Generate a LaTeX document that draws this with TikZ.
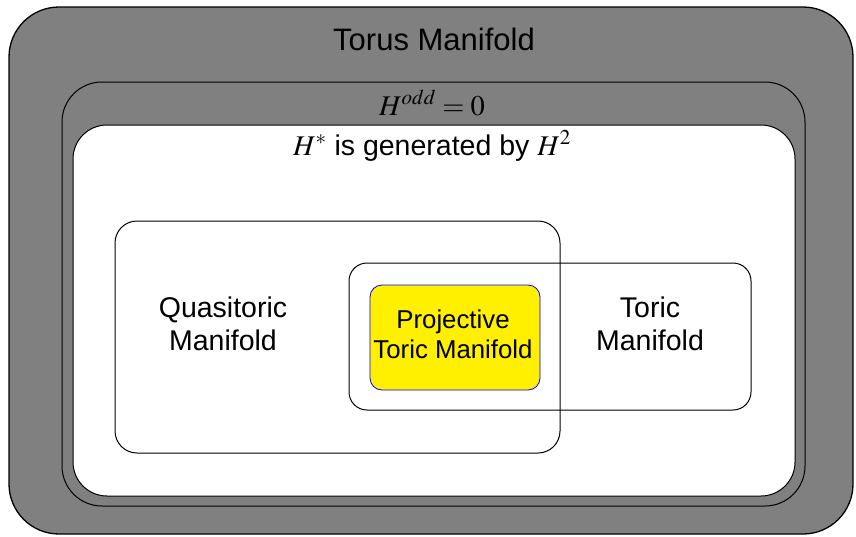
\documentclass[tikz,border=0pt]{standalone}
\usepackage{mathptmx}
\usepackage[no-math]{fontspec}
\setmainfont{Liberation Sans}
\definecolor{boxgray}{RGB}{128,128,128}
\definecolor{projyellow}{RGB}{255,240,0}
\tikzset{
  region/.style={draw=black, line width=1pt},
  bigtxt/.style={font=\fontsize{28.5}{33}\selectfont, inner sep=0pt, anchor=base, align=center},
  midtxt/.style={font=\fontsize{25.8}{30}\selectfont, inner sep=0pt, anchor=base, align=center},
}
\begin{document}
\begin{tikzpicture}[x=1pt,y=-1pt]
\useasboundingbox (0,0) rectangle (856,536);
\draw[region, fill=boxgray, line width=1.3pt, rounded corners=50pt] (9,7) rectangle (853,534);
\draw[region, fill=boxgray, rounded corners=40pt] (62,82) rectangle (805,506);
\draw[region, fill=white, rounded corners=34pt] (73,125) rectangle (795,496);
\draw[region, rounded corners=22pt] (115,221) rectangle (560,453);
\draw[region, rounded corners=18pt] (349,263) rectangle (751,410);
\draw[draw=blue, line width=0.8pt, fill=projyellow, rounded corners=12pt] (370,285) rectangle (540,390);
\node[bigtxt, font=\fontsize{31}{36}\selectfont] (torus) at (434,50) {Torus Manifold};
\node[bigtxt] (odd) at (432,115) {$H^{odd}=0$};
\node[bigtxt] (gen) at (432,155) {$H^{*}$ is generated by $H^{2}$};
\node[bigtxt] (quasi) at (223,350) {Quasitoric\\Manifold};
\node[bigtxt] (toric) at (650,350) {Toric\\Manifold};
\node[midtxt] (proj) at (453,358) {Projective\\Toric Manifold};
\end{tikzpicture}
\end{document}
